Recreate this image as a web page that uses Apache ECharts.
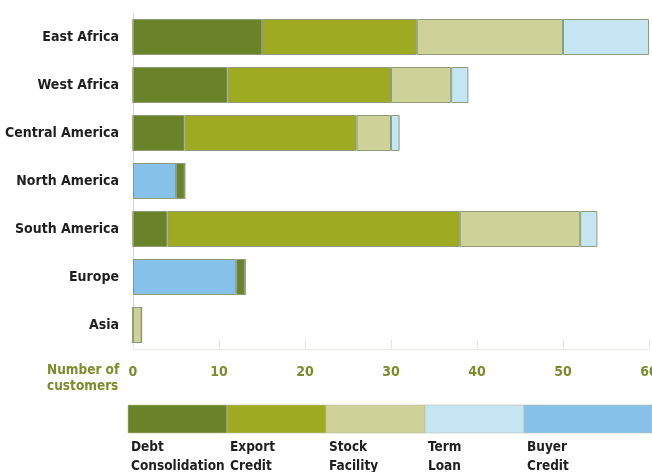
<!DOCTYPE html>
<html>
<head>
<meta charset="utf-8">
<script src="https://cdn.jsdelivr.net/npm/echarts@6/dist/echarts.min.js"></script>
<style>
  html, body { margin: 0; padding: 0; background: #fff; }
  #chart { width: 652px; height: 472px; }
</style>
</head>
<body>
<div id="chart"></div>
<script>
// Regions, top to bottom
const regions = ['East Africa', 'West Africa', 'Central America', 'North America', 'South America', 'Europe', 'Asia'];

// Number of customers per facility type, in region order
const debtConsolidation = [15, 11, 6, 1, 4, 1, 0];
const exportCredit      = [18, 19, 20, 0, 34, 0, 0];
const stockFacility     = [17, 7, 4, 0, 14, 0, 1];
const termLoan          = [10, 2, 1, 0, 2, 0, 0];
const buyerCredit       = [0, 0, 0, 5, 0, 12, 0];

const xTicks = [0, 10, 20, 30, 40, 50, 60];

// Legend order and two-line labels
const legendNames  = ['Debt\nConsolidation', 'Export\nCredit', 'Stock\nFacility', 'Term\nLoan', 'Buyer\nCredit'];
const legendColors = ['#6a8228', '#9eaa22', '#ced198', '#c6e5f2', '#86c1e9'];

const FONT = "'DejaVu Sans Condensed', 'Liberation Sans Narrow', 'Roboto', sans-serif";
const GREEN_TEXT = '#7b8c2c';

const chart = echarts.init(document.getElementById('chart'), null, { renderer: 'canvas' });

function barSeries(name, data, color) {
  return {
    name: name,
    type: 'bar',
    stack: 'total',
    data: data,
    barWidth: 36,
    itemStyle: { color: color, borderColor: '#8e9c7a', borderWidth: 1 },
    emphasis: { disabled: true }
  };
}

// Buyer Credit is stacked first so it starts at the axis where present
const series = [
  barSeries('Buyer Credit', buyerCredit, legendColors[4]),
  barSeries('Debt Consolidation', debtConsolidation, legendColors[0]),
  barSeries('Export Credit', exportCredit, legendColors[1]),
  barSeries('Stock Facility', stockFacility, legendColors[2]),
  barSeries('Term Loan', termLoan, legendColors[3])
];

// Legend strip drawn as coloured blocks with labels beneath
const legendLeft = 128, legendTop = 405, legendH = 28, legendW = 99;
const graphics = [];
legendNames.forEach(function (label, i) {
  const x = legendLeft + i * legendW;
  const w = i === legendNames.length - 1 ? 652 - x : legendW;
  graphics.push({
    type: 'rect',
    shape: { x: x, y: legendTop, width: w, height: legendH },
    style: { fill: legendColors[i], stroke: '#b8c0a8', lineWidth: 0.6 }
  });
  graphics.push({
    type: 'text',
    x: x + 3,
    y: legendTop + 33,
    style: {
      text: label,
      font: 'bold 13.5px ' + FONT,
      fill: '#1f1f1f',
      lineHeight: 19,
      textVerticalAlign: 'top'
    }
  });
});
graphics.push({
  type: 'text',
  x: 47,
  y: 362,
  style: {
    text: 'Number of\ncustomers',
    font: 'bold 13.5px ' + FONT,
    fill: GREEN_TEXT,
    lineHeight: 16,
    textVerticalAlign: 'top'
  }
});

chart.setOption({
  animation: false,
  backgroundColor: '#ffffff',
  grid: { left: 133, right: 3, top: 13, bottom: 123, containLabel: false, outerBoundsMode: 'none' },
  xAxis: {
    type: 'value',
    min: xTicks[0],
    max: xTicks[xTicks.length - 1],
    interval: 10,
    axisLine: { show: true, lineStyle: { color: '#e8ebe4', width: 1 } },
    axisTick: { show: true, inside: true, length: 9, lineStyle: { color: '#e2e5de' } },
    splitLine: { show: false },
    axisLabel: {
      margin: 16,
      color: GREEN_TEXT,
      fontFamily: FONT,
      fontWeight: 'bold',
      fontSize: 14,
      showMaxLabel: true,
      hideOverlap: false
    }
  },
  yAxis: {
    type: 'category',
    data: regions,
    inverse: true,
    axisLine: { show: true, lineStyle: { color: '#d4d8cf', width: 1 } },
    axisTick: { show: false },
    axisLabel: {
      margin: 14,
      color: '#1f1f1f',
      fontFamily: FONT,
      fontWeight: 'bold',
      fontSize: 14
    }
  },
  series: series,
  graphic: graphics
});
</script>
</body>
</html>
